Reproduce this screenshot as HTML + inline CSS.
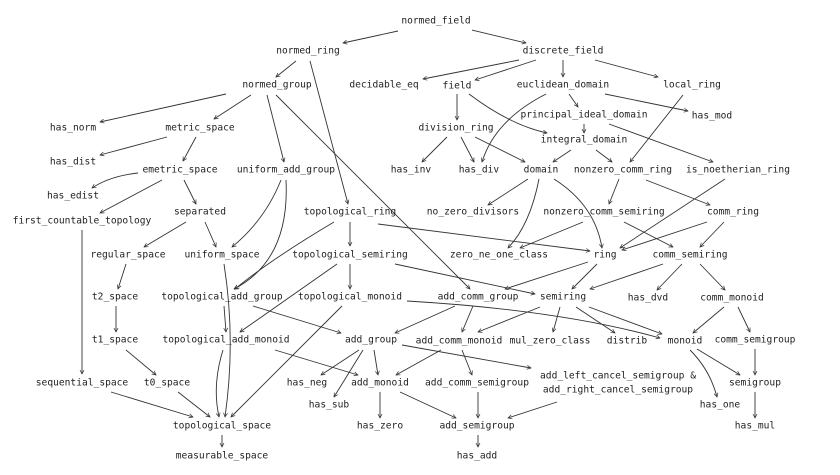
<!DOCTYPE html>
<html><head><meta charset="utf-8"><style>
html,body{margin:0;padding:0;background:#fff;}
svg{display:block;}
text{font-family:"DejaVu Sans Mono","Liberation Mono",monospace;font-size:9.6px;fill:#222;text-anchor:middle;dominant-baseline:central;}
path,line{stroke:#333;stroke-width:0.9;fill:none;}
</style></head><body>
<svg width="840" height="475" viewBox="0 0 840 475" xmlns="http://www.w3.org/2000/svg">
<defs><marker id="a" viewBox="0 0 10 10" refX="9" refY="5" markerWidth="5" markerHeight="5" orient="auto-start-reverse" markerUnits="userSpaceOnUse"><path d="M1,1 L9,5 L1,9" style="stroke:#333;stroke-width:1.4;fill:none"/></marker></defs>
<g marker-end="url(#a)">
<path d="M398,31 L343,43"/>
<path d="M472,30 L526,43"/>
<path d="M296,61 L276,77"/>
<path d="M310,61 L348,204"/>
<path d="M519,60 L423,79"/>
<path d="M536,60 L475,80"/>
<path d="M563,60 L563,77"/>
<path d="M595,60 L658,77"/>
<path d="M226,94 L100,122"/>
<path d="M251,95 L214,119"/>
<path d="M267,95 L284,162"/>
<path d="M276,95 L470,289"/>
<path d="M167,137 L100,155"/>
<path d="M196,137 L183,161"/>
<path d="M138,173 Q110,176 92,188"/>
<path d="M162,180 L100,213"/>
<path d="M184,180 L196,204"/>
<path d="M457,94 L457,120"/>
<path d="M469,94 Q510,125 547,133"/>
<path d="M569,94 L578,107"/>
<path d="M605,94 L688,111"/>
<path d="M546,94 Q495,120 482,162"/>
<path d="M584,124 L584,133"/>
<path d="M609,124 L713,162"/>
<path d="M683,95 L630,162"/>
<path d="M447,137 L422,162"/>
<path d="M461,137 L474,162"/>
<path d="M475,137 L525,162"/>
<path d="M571,150 L553,162"/>
<path d="M596,150 L612,162"/>
<path d="M528,179 L488,205"/>
<path d="M539,179 Q530,225 508,248"/>
<path d="M554,179 Q595,205 602,248"/>
<path d="M619,179 L609,204"/>
<path d="M646,180 L710,205"/>
<path d="M725,179 L620,248"/>
<path d="M583,222 L520,248"/>
<path d="M624,222 L673,247"/>
<path d="M707,222 L622,250"/>
<path d="M724,222 L700,247"/>
<path d="M186,222 L144,247"/>
<path d="M205,222 L216,247"/>
<path d="M281,180 Q265,220 232,247"/>
<path d="M286,180 Q290,260 234,289"/>
<path d="M334,222 Q270,260 235,289"/>
<path d="M350,222 L350,246"/>
<path d="M378,224 L590,251"/>
<path d="M350,264 L350,289"/>
<path d="M337,264 L240,332"/>
<path d="M395,264 L535,294"/>
<path d="M82,230 L82,374"/>
<path d="M126,264 L118,289"/>
<path d="M116,306 L116,332"/>
<path d="M126,350 L156,375"/>
<path d="M224,264 Q236,340 225,417"/>
<path d="M224,306 L226,332"/>
<path d="M253,306 L341,333"/>
<path d="M342,306 L231,417"/>
<path d="M407,301 Q560,310 660,338"/>
<path d="M223,350 Q212,385 219,417"/>
<path d="M275,350 L358,375"/>
<path d="M111,392 L193,417"/>
<path d="M178,392 L210,417"/>
<path d="M222,435 L222,447"/>
<path d="M588,262 L505,289"/>
<path d="M597,264 L572,289"/>
<path d="M663,264 L590,289"/>
<path d="M682,264 L657,290"/>
<path d="M700,264 L725,290"/>
<path d="M455,306 L395,333"/>
<path d="M473,306 L462,332"/>
<path d="M540,307 L478,332"/>
<path d="M560,307 L553,332"/>
<path d="M576,307 L615,333"/>
<path d="M589,307 L662,334"/>
<path d="M724,307 L693,333"/>
<path d="M738,307 L750,332"/>
<path d="M359,350 L321,375"/>
<path d="M363,350 L334,397"/>
<path d="M374,350 L378,375"/>
<path d="M402,345 L531,368"/>
<path d="M441,350 L396,375"/>
<path d="M462,350 L472,375"/>
<path d="M400,392 L456,418"/>
<path d="M478,392 L478,418"/>
<path d="M557,402 L508,418"/>
<path d="M380,392 L380,418"/>
<path d="M478,435 L478,447"/>
<path d="M690,350 Q710,370 717,397"/>
<path d="M697,349 L740,375"/>
<path d="M755,349 L755,375"/>
<path d="M755,392 L755,418"/>
</g>
<g>
<text x="436" y="21">normed_field</text>
<text x="308" y="51">normed_ring</text>
<text x="563" y="51">discrete_field</text>
<text x="277" y="85">normed_group</text>
<text x="384" y="85">decidable_eq</text>
<text x="457" y="86">field</text>
<text x="563" y="85">euclidean_domain</text>
<text x="692" y="85">local_ring</text>
<text x="712" y="116">has_mod</text>
<text x="584" y="115">principal_ideal_domain</text>
<text x="584" y="140">integral_domain</text>
<text x="456" y="128">division_ring</text>
<text x="73" y="128">has_norm</text>
<text x="200" y="128">metric_space</text>
<text x="73" y="162">has_dist</text>
<text x="180" y="170">emetric_space</text>
<text x="286" y="170">uniform_add_group</text>
<text x="411" y="170">has_inv</text>
<text x="479" y="170">has_div</text>
<text x="541" y="170">domain</text>
<text x="623" y="170">nonzero_comm_ring</text>
<text x="738" y="170">is_noetherian_ring</text>
<text x="73" y="196">has_edist</text>
<text x="82" y="221">first_countable_topology</text>
<text x="200" y="212">separated</text>
<text x="350" y="212">topological_ring</text>
<text x="473" y="212">no_zero_divisors</text>
<text x="604" y="212">nonzero_comm_semiring</text>
<text x="733" y="212">comm_ring</text>
<text x="128" y="255">regular_space</text>
<text x="222" y="255">uniform_space</text>
<text x="350" y="255">topological_semiring</text>
<text x="499" y="255">zero_ne_one_class</text>
<text x="605" y="255">ring</text>
<text x="690" y="255">comm_semiring</text>
<text x="115" y="297">t2_space</text>
<text x="222" y="297">topological_add_group</text>
<text x="350" y="297">topological_monoid</text>
<text x="478" y="297">add_comm_group</text>
<text x="563" y="297">semiring</text>
<text x="648" y="298">has_dvd</text>
<text x="732" y="298">comm_monoid</text>
<text x="115" y="340">t1_space</text>
<text x="226" y="340">topological_add_monoid</text>
<text x="371" y="340">add_group</text>
<text x="459" y="341">add_comm_monoid</text>
<text x="550" y="341">mul_zero_class</text>
<text x="627" y="341">distrib</text>
<text x="685" y="341">monoid</text>
<text x="755" y="340">comm_semigroup</text>
<text x="82" y="383">sequential_space</text>
<text x="167" y="383">t0_space</text>
<text x="307" y="383">has_neg</text>
<text x="380" y="383">add_monoid</text>
<text x="477" y="383">add_comm_semigroup</text>
<text x="618" y="376">add_left_cancel_semigroup &amp;</text>
<text x="618" y="390">add_right_cancel_semigroup</text>
<text x="755" y="383">semigroup</text>
<text x="329" y="405">has_sub</text>
<text x="720" y="405">has_one</text>
<text x="222" y="426">topological_space</text>
<text x="380" y="426">has_zero</text>
<text x="477" y="426">add_semigroup</text>
<text x="755" y="426">has_mul</text>
<text x="222" y="456">measurable_space</text>
<text x="477" y="456">has_add</text>
</g>
</svg>
</body></html>
